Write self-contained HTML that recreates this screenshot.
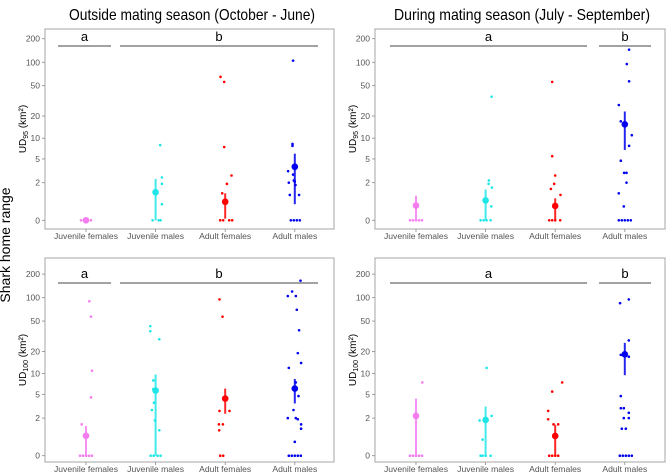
<!DOCTYPE html>
<html><head><meta charset="utf-8"><style>
html,body{margin:0;padding:0;background:#fff;}
svg{display:block;font-family:"Liberation Sans",sans-serif;}
</style></head><body>
<svg id="chart" width="668" height="476" viewBox="0 0 668 476">
<text x="10" y="245" transform="rotate(-90 10 245)" text-anchor="middle" font-size="14">Shark home range</text>
<text x="192" y="20" text-anchor="middle" font-size="16" textLength="246" lengthAdjust="spacingAndGlyphs">Outside mating season (October - June)</text>
<text x="522" y="20" text-anchor="middle" font-size="16" textLength="256" lengthAdjust="spacingAndGlyphs">During mating season (July - September)</text>
</svg>
<script>
const categories = ["Juvenile females","Juvenile males","Adult females","Adult males"];
const colors = ["#f57cf0","#1ee6e6","#ff0000","#0000ee"];
const yTicks = [0,2,5,10,20,50,100,200];

// Panel 1: UD95 outside season
const p1Means = [0, 1.27, 0.72, 3.78];
const p1Low = [0, 0, 0.05, 0.6];
const p1High = [0, 2.34, 1.2, 6];
const p1Points = [
 [0,0,0,0,0],
 [8,2.5,1.9,0.6,0,0,0],
 [65,56,7.5,2.7,1.9,1.2,0,0,0,0],
 [105,8.3,7.8,3.2,2.8,2.2,2.0,2.1,1.8,1.1,1.1,0,0,0,0]];
const p1Jitter = [
 [-5,-2,0,2,5],
 [4.6,6.3,6.3,6.3,-3,3,5],
 [-4.7,-1,-1,6.3,1.7,-3,-5,-2,4,7],
 [-1.7,-2.3,-2.3,-6.7,-1.7,-1,-6,0,0.7,-5,4.3,-4,-1,2,5]];

// Panel 2: UD95 during season
const p2Means = [0.54, 0.79, 0.52, 15.5];
const p2Low = [0, 0, 0, 6.8];
const p2High = [1.05, 1.45, 0.9, 23];
const p2Points = [
 [0,0,0,0,0],
 [36,2.2,1.9,1.6,0.5,0,0,0,0],
 [56,5.5,2.7,1.9,1.5,1.1,0,0,0,0],
 [145,95,57,28,17,11,7.8,4.7,3,3,2,1.2,0.5,0,0,0,0,0]];
const p2Jitter = [
 [-6,-3,0,3,6],
 [6,3.3,3,6.3,5.7,-5,-2,1,5],
 [-3,-3,0,-1,-4.3,5.3,-6,-3,0,5],
 [4.3,2,4.3,-6,-4,7,4.3,-4,-0.7,1.7,1.7,-6,-1,-6,-3,0,3,6]];

// Panel 3: UD100 outside season
const p3Means = [0.79, 5.7, 4.3, 6.1];
const p3Low = [0, 0, 2.4, 3.6];
const p3High = [1.38, 9.7, 6.1, 8.4];
const p3Points = [
 [90,57,11,4.5,1.5,0,0,0,0,0],
 [43,37,29,8,6,3.7,2.8,1.8,1.1,0,0,0,0],
 [95,57,2.7,2.7,1.5,1.5,1.1,0,0],
 [165,120,105,105,70,38,19,14,12,7.5,4.7,2.8,2.0,2.0,1.9,1.5,1.2,0.5,0,0,0,0,0]];
const p3Jitter = [
 [3.3,5,6,5,-4.3,-6,-3,0,3,6],
 [-5.3,-5.3,3.7,-2.3,-2.3,-1.7,-3.7,-0.7,3.7,-5,-2,2,5],
 [-5.7,-2.7,-5.7,4.3,-6.3,-2.3,-6,-5,-2],
 [5.7,-2.7,-7,1,2,4.3,3,6.3,-6,1,3.7,-1.3,-7,1,3,6.3,6.3,0,-6,-3,0,3,6]];

// Panel 4: UD100 during season
const p4Means = [2.2, 1.84, 0.78, 18.3];
const p4Low = [0, 0, 0, 9.5];
const p4High = [4.3, 3.2, 1.47, 26];
const p4Points = [
 [7.5,0,0,0,0,0],
 [12,2.2,1.8,0.6,0,0,0,0],
 [7.5,5.5,2.7,1.9,1.5,1.5,0,0,0,0],
 [95,85,28,18,18,17,4.7,3,3,2.5,2,2,1.2,1.2,0,0,0,0,0]];
const p4Jitter = [
 [6.3,-6,-3,0,3,6],
 [1,6,-6,-3,-5,-3,0,5],
 [7,-3,-7,-7,-1.7,3,-6,-3,0,3],
 [4,-4.7,4,-4,1,4,-4,-4,-1,4,-1,4,-3,1,-5,-2,1,4,7]];

const panels = [
 {left:45,right:334,top:29,bottom:229,zero:220.3,ylab:"95",means:p1Means,low:p1Low,high:p1High,pts:p1Points,jit:p1Jitter,
  sig:[["a",58,111],["b",120,318]],sigY:46,name:"ud95-outside"},
 {left:375,right:665,top:29,bottom:229,zero:220.3,ylab:"95",means:p2Means,low:p2Low,high:p2High,pts:p2Points,jit:p2Jitter,
  sig:[["a",390,587],["b",599,651]],sigY:46,name:"ud95-during"},
 {left:45,right:334,top:258,bottom:462,zero:455.7,ylab:"100",means:p3Means,low:p3Low,high:p3High,pts:p3Points,jit:p3Jitter,
  sig:[["a",58,111],["b",120,318]],sigY:283,name:"ud100-outside"},
 {left:375,right:665,top:258,bottom:462,zero:455.7,ylab:"100",means:p4Means,low:p4Low,high:p4High,pts:p4Points,jit:p4Jitter,
  sig:[["a",390,587],["b",599,651]],sigY:283,name:"ud100-during"}];

const NS="http://www.w3.org/2000/svg";
const svg=document.getElementById("chart");
const K=34.24;
function mk(tag,attrs,parent){const e=document.createElementNS(NS,tag);for(const k in attrs)e.setAttribute(k,attrs[k]);(parent||svg).appendChild(e);return e;}

panels.forEach(function(p){
  const g=mk("g",{});
  
  
  const yScale=v=>p.zero-K*Math.log(1+v);
  const xScale=i=>p.left+41+i*69.6;
  const frame=mk("rect",{x:p.left,y:p.top,width:p.right-p.left,height:p.bottom-p.top,fill:"#fff",stroke:"#b3b3b3","stroke-width":1.2},g);
  
  
  yTicks.forEach(function(t){
    const y=yScale(t);
    const tk=mk("line",{x1:p.left-3,x2:p.left,y1:y,y2:y,stroke:"#888","stroke-width":0.8},g);
    
    
    const tl=mk("text",{x:p.left-5,y:y+3,"text-anchor":"end","font-size":8.5,fill:"#555"},g);
    tl.textContent=t;
    
    
  });
  categories.forEach(function(c,i){
    const x=xScale(i);
    const tk=mk("line",{x1:x,x2:x,y1:p.bottom,y2:p.bottom+3,stroke:"#888","stroke-width":0.8},g);
    
    
    const tl=mk("text",{x:x,y:p.bottom+10,"text-anchor":"middle","font-size":8.6,fill:"#555"},g);
    tl.textContent=c;
    
    
  });
  const yl=mk("text",{x:0,y:0,"text-anchor":"middle","font-size":10,transform:"translate("+(p.left-19)+","+((p.top+p.bottom)/2)+") rotate(-90)"},g);
  yl.innerHTML='UD<tspan font-size="7" dy="2">'+p.ylab+'</tspan><tspan dy="-2"> (km²)</tspan>';
  
  
  p.sig.forEach(function(s){
    const ln=mk("line",{x1:s[1],x2:s[2],y1:p.sigY,y2:p.sigY,stroke:"#444","stroke-width":1},g);
    
    
    const lt=mk("text",{x:(s[1]+s[2])/2,y:p.sigY-5,"text-anchor":"middle","font-size":13},g);
    lt.textContent=s[0];
    
    
  });
  categories.forEach(function(c,i){
    const x=xScale(i);
    p.pts[i].forEach(function(v,j){
      const d=mk("circle",{cx:x+p.jit[i][j],cy:yScale(v),r:1.3,fill:colors[i]},g);
      
      
    });
    const eb=mk("line",{x1:x,x2:x,y1:yScale(p.low[i]),y2:yScale(p.high[i]),stroke:colors[i],"stroke-width":2,"stroke-opacity":0.85},g);
    
    
    const m=mk("circle",{cx:x,cy:yScale(p.means[i]),r:3.3,fill:colors[i]},g);
    
    
  });
});
</script>
</body></html>
